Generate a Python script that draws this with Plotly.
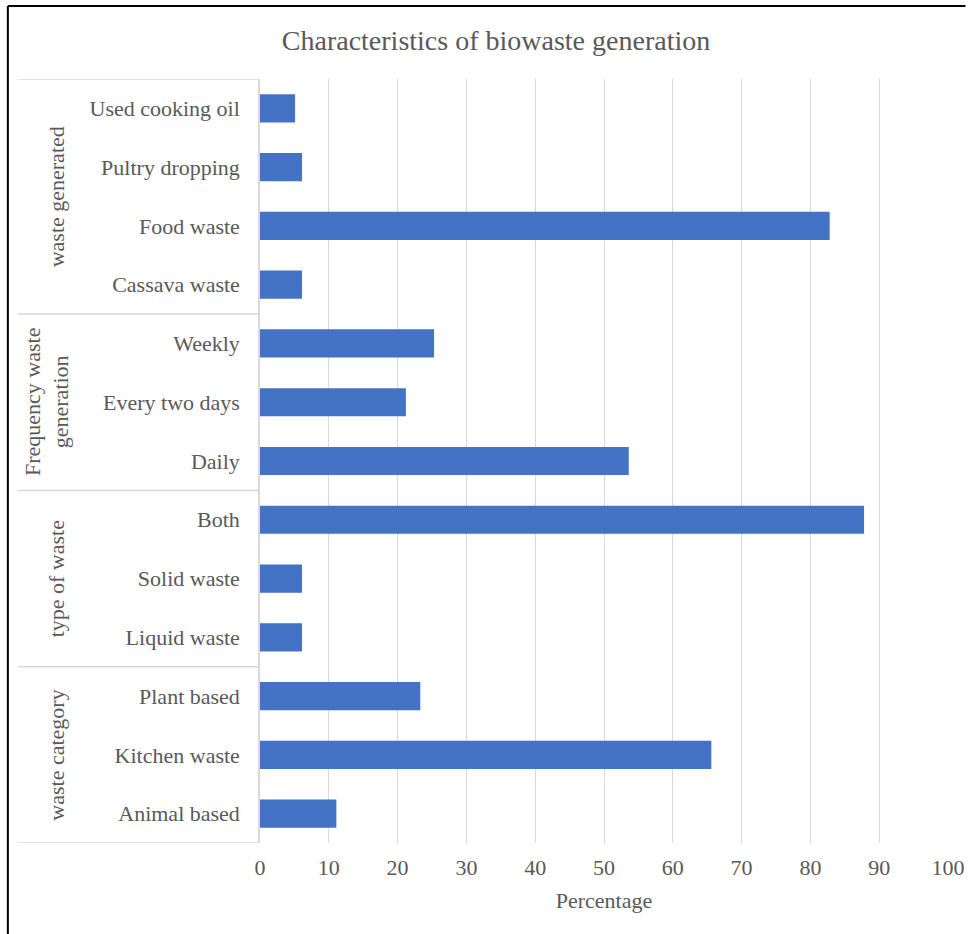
import plotly.graph_objects as go

# Categories from bottom to top, with their group
categories = [
    "Animal based", "Kitchen waste", "Plant based",
    "Liquid waste", "Solid waste", "Both",
    "Daily", "Every two days", "Weekly",
    "Cassava waste", "Food waste", "Pultry dropping", "Used cooking oil",
]
percentages = [11.1, 65.6, 23.3, 6.1, 6.1, 87.8, 53.6, 21.2, 25.3, 6.1, 82.8, 6.1, 5.1]

groups = ["waste category", "type of waste", "Frequency waste<br>generation", "waste generated"]
group_sizes = [3, 3, 3, 4]
group_label_px = [56, 56, 46, 56]

x_ticks = list(range(0, 101, 10))

TEXT = "#595959"
GRID = "#d9d9d9"
FONT = "Liberation Serif, Times New Roman, serif"
FS = 22

W, H = 976, 934
L, R, T, B = 259.5, 27.5, 79, 91
pw, ph = W - L - R, H - T - B


def px_to_paper_x(px):
    return (px - L) / pw


def px_to_paper_y(py):
    return 1 + (T - py) / ph


fig = go.Figure(go.Bar(
    y=categories, x=percentages, orientation="h",
    marker=dict(color="#4472C4", line=dict(width=0)),
    width=0.48,
))

shapes = []
annotations = []

# group separators and group labels on the category axis
start = 0
bounds = [-0.5]
for g, n, gx in zip(groups, group_sizes, group_label_px):
    bounds.append(start + n - 0.5)
    annotations.append(dict(
        text=g, xref="paper", yref="y",
        x=px_to_paper_x(gx), y=start + (n - 1) / 2,
        textangle=-90, showarrow=False, xanchor="center", yanchor="middle",
        font=dict(family=FONT, size=FS, color=TEXT),
    ))
    start += n

for b in bounds:
    shapes.append(dict(
        type="line", xref="paper", yref="y",
        x0=px_to_paper_x(17), x1=0, y0=b, y1=b,
        line=dict(color=GRID, width=1.5), layer="below",
    ))

# outer frame (left and top edges)
fx = px_to_paper_x(7)
shapes.append(dict(type="line", xref="paper", yref="paper",
                   x0=fx, x1=fx, y0=px_to_paper_y(940), y1=px_to_paper_y(6),
                   line=dict(color="black", width=2)))
shapes.append(dict(type="line", xref="paper", yref="paper",
                   x0=fx, x1=px_to_paper_x(966), y0=px_to_paper_y(6), y1=px_to_paper_y(6),
                   line=dict(color="black", width=2)))

fig.update_layout(
    width=W, height=H,
    margin=dict(l=L, r=R, t=T, b=B),
    paper_bgcolor="white", plot_bgcolor="white",
    showlegend=False,
    title=dict(
        text="Characteristics of biowaste generation",
        x=496 / W, xref="container", xanchor="center",
        y=1 - 40 / H, yref="container", yanchor="middle",
        font=dict(family=FONT, size=28, color=TEXT),
    ),
    xaxis=dict(
        range=[0, 100], tickvals=x_ticks, ticktext=[str(v) for v in x_ticks],
        showgrid=True, gridcolor=GRID, gridwidth=1.3,
        zeroline=False, showline=False, ticks="",
        ticklabelstandoff=9,
        tickfont=dict(family=FONT, size=FS, color=TEXT),
        title=dict(text="Percentage", font=dict(family=FONT, size=FS, color=TEXT), standoff=13),
        fixedrange=True,
    ),
    yaxis=dict(
        type="category", categoryorder="array", categoryarray=categories,
        range=[-0.5, len(categories) - 0.5],
        showline=True, linecolor=GRID, linewidth=1.5,
        showgrid=False, zeroline=False, ticks="",
        ticklabelstandoff=14,
        tickfont=dict(family=FONT, size=FS, color=TEXT),
        fixedrange=True,
    ),
    shapes=shapes,
    annotations=annotations,
    bargap=0.52,
)

fig.write_html("out.html")
